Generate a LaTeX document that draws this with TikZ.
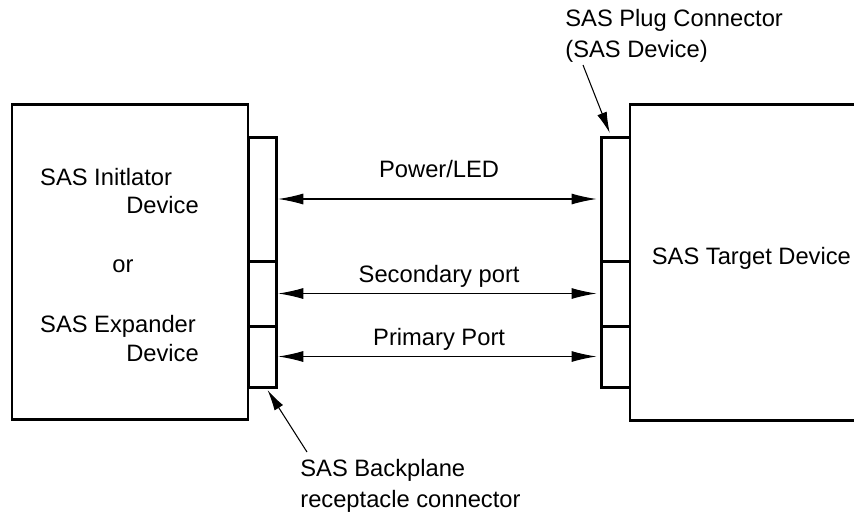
\documentclass[tikz,border=0pt]{standalone}
\usepackage{fontspec}
\setmainfont{Liberation Sans}
\usetikzlibrary{arrows.meta}
\tikzset{
	devbox/.style = {draw, line width = 1.7pt, inner sep = 0pt, outer sep = 0pt},
	conseg/.style = {draw, line width = 1.7pt, inner sep = 0pt, outer sep = 0pt, minimum width = 0.57cm},
	link/.style = {line width = 0.6pt, {Latex[length=0.5cm, width=0.22cm]}-{Latex[length=0.5cm, width=0.22cm]}, shorten < = 0.03cm, shorten > = 0.1cm},
	callout/.style = {line width = 0.6pt, -{Latex[length=0.42cm, width=0.2cm]}}
}
\begin{document}
\begin{tikzpicture}[font=\fontsize{13.5}{17.6}\selectfont]
		\useasboundingbox (0cm, 0cm) rectangle (17.08cm, -10.32cm);
		\clip (0cm, 0cm) rectangle (17.08cm, -10.32cm);

		% initiator / expander side
		\node (initbox) at (2.6cm, -5.23cm) [devbox, minimum width = 4.72cm, minimum height = 6.3cm] {};
		\node (lconpwr) at (5.25cm, -3.98cm) [conseg, minimum height = 2.48cm] {};
		\node (lconsec) at (5.25cm, -5.87cm) [conseg, minimum height = 1.3cm] {};
		\node (lconpri) at (5.25cm, -7.13cm) [conseg, minimum height = 1.22cm] {};

		\node [anchor = west] (initname) at (0.68cm, -3.54cm) {SAS Initlator};
		\node [anchor = east] (initdev) at (4.1cm, -4.1cm) {Device};
		\node (initor) at (2.46cm, -5.32cm) {or};
		\node [anchor = west] (expname) at (0.68cm, -6.52cm) {SAS Expander};
		\node [anchor = east] (expdev) at (4.1cm, -7.06cm) {Device};

		% target side
		\node (targbox) at (15.1cm, -5.24cm) [devbox, minimum width = 5cm, minimum height = 6.32cm] {};
		\node (rconpwr) at (12.315cm, -3.98cm) [conseg, minimum height = 2.48cm] {};
		\node (rconsec) at (12.315cm, -5.87cm) [conseg, minimum height = 1.3cm] {};
		\node (rconpri) at (12.315cm, -7.13cm) [conseg, minimum height = 1.22cm] {};

		\node [anchor = west, inner sep = 0pt] (targname) at (13.03cm, -5.16cm) {SAS Target Device};

		% links
		\draw [link] (lconpwr.east) -- (rconpwr.west) node [pos=.5, above = 0.3cm] {Power/LED};
		\draw [link] (lconsec.east) -- (rconsec.west) node [pos=.5, above] {Secondary port};
		\draw [link] (lconpri.east) -- (rconpri.west) node [pos=.5, above] {Primary Port};

		% callouts
		\node [anchor = north west, align = left, inner sep = 0pt] (pluglbl) at (11.3cm, -0.18cm) {SAS Plug Connector\\(SAS Device)};
		\coordinate (plugtail) at (11.66cm, -1.3cm);
		\draw [callout] (plugtail) -- ([xshift = -0.12cm, yshift = 0.08cm]rconpwr.north);

		\node [anchor = north west, align = left, inner sep = 0pt] (backlbl) at (6cm, -9.18cm) {SAS Backplane\\receptacle connector};
		\coordinate (backtail) at (6.14cm, -9.04cm);
		\draw [callout] (backtail) -- ([xshift = 0.1cm, yshift = -0.06cm]lconpri.south);
	\end{tikzpicture}
\end{document}
